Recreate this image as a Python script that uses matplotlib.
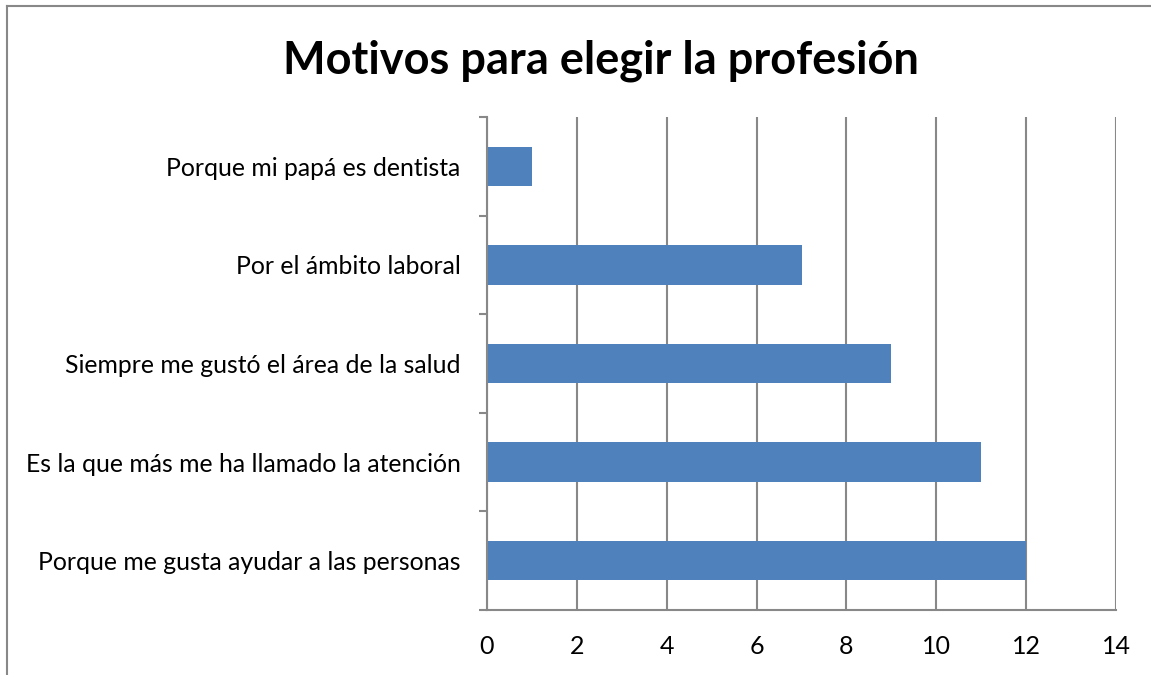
import numpy as np
import matplotlib
matplotlib.use("Agg")
import matplotlib.pyplot as plt
from matplotlib.lines import Line2D

# Data (bottom to top, as drawn)
categories = [
    "Porque me gusta ayudar a las personas",
    "Es la que más me ha llamado la atención",
    "Siempre me gustó el área de la salud",
    "Por el ámbito laboral",
    "Porque mi papá es dentista",
]
values = [12, 11, 9, 7, 1]
xticks = [0, 2, 4, 6, 8, 10, 12, 14]

plt.rcParams['font.family'] = ['Lato', 'DejaVu Sans']

W, H = 1151, 675
fig = plt.figure(figsize=(W / 100, H / 100), dpi=100)
ax = fig.add_axes([487 / W, 1 - 610 / H, (1116 - 487) / W, (610 - 117) / H])

y = np.arange(len(categories))
ax.barh(y, values, height=0.4, color="#4F81BD", zorder=3)

ax.set_xlim(0, 14)
ax.set_ylim(-0.5, len(categories) - 0.5)
ax.set_xticks(xticks)
ax.set_xticklabels([str(t) for t in xticks], fontsize=18)
ax.set_yticks(y)
ax.set_yticklabels(categories, fontsize=17.8)
ax.tick_params(axis="y", length=0, pad=19)
ax.tick_params(axis="x", length=0, pad=18)

# category boundary ticks on y axis
ax.set_yticks(np.arange(len(categories) + 1) - 0.5, minor=True)
ax.tick_params(axis="y", which="minor", length=6, width=1.5, color="#888888", direction="out")
# x ticks going down
ax.set_xticks(xticks, minor=True)
ax.tick_params(axis="x", which="minor", length=8, width=1.5, color="#888888", direction="out")

ax.grid(axis="x", color="#888888", linewidth=1.5, zorder=0)
for s in ["top", "right"]:
    ax.spines[s].set_visible(False)
for s in ["left", "bottom"]:
    ax.spines[s].set_color("#888888")
    ax.spines[s].set_linewidth(1.5)
ax.spines["left"].set_zorder(4)

fig.text(601 / W, 1 - 61 / H, "Motivos para elegir la profesión", ha="center", va="center",
         fontsize=32.5, fontweight="bold")

# chart border (left and top visible)
fig.add_artist(Line2D([6.5 / W, 6.5 / W], [0, 1 - 5.5 / H], color="#888888", linewidth=1.5))
fig.add_artist(Line2D([6.5 / W, 1], [1 - 5.5 / H, 1 - 5.5 / H], color="#888888", linewidth=1.5))

fig.savefig("out.png", dpi=100)
